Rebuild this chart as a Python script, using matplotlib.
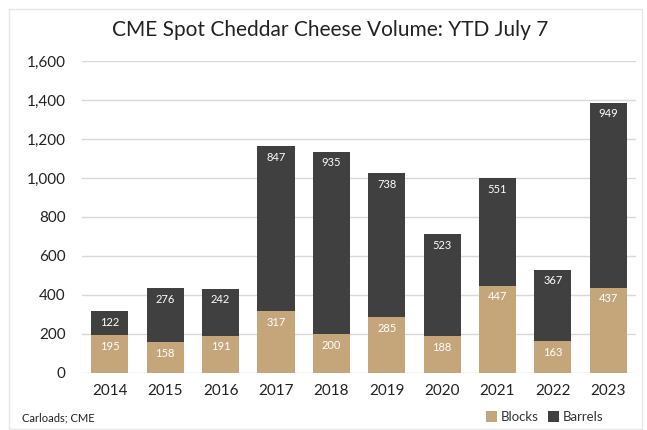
import matplotlib.pyplot as plt
from matplotlib.patches import Rectangle
from matplotlib.ticker import FuncFormatter

years = ["2014", "2015", "2016", "2017", "2018", "2019", "2020", "2021", "2022", "2023"]
blocks = [195, 158, 191, 317, 200, 285, 188, 447, 163, 437]
barrels = [122, 276, 242, 847, 935, 738, 523, 551, 367, 949]

tan = "#c4a67a"
dark = "#404040"

plt.rcParams['font.family'] = ['Lato', 'DejaVu Sans']

fig = plt.figure(figsize=(6.47, 4.30), dpi=100)
ax = fig.add_axes([0.127, 0.1326, 0.856, 0.7256])

x = range(len(years))
b1 = ax.bar(x, blocks, width=0.67, color=tan, label="Blocks", zorder=2)
b2 = ax.bar(x, barrels, width=0.67, bottom=blocks, color=dark, label="Barrels", zorder=2)

# value labels just inside the top of each segment
for bars, vals in [(b1, blocks), (b2, barrels)]:
    for r, v in zip(bars, vals):
        top = r.get_y() + r.get_height()
        ax.annotate(str(v), (r.get_x() + r.get_width() / 2, top),
                    xytext=(0, -8), textcoords="offset points",
                    ha="center", va="center", color="white", fontsize=8)

ax.set_xlim(-0.5, len(years) - 0.5)
ax.set_ylim(0, 1600)
ax.set_yticks(range(0, 1601, 200))
ax.yaxis.set_major_formatter(FuncFormatter(lambda v, p: f"{int(v):,}"))
ax.set_xticks(list(x))
ax.set_xticklabels(years)
ax.tick_params(length=0, labelsize=11, colors="#222222")
ax.tick_params(axis="x", pad=8)
ax.tick_params(axis="y", pad=12)
ax.grid(axis="y", color="#d9d9d9", linewidth=1, zorder=0)
for s in ax.spines.values():
    s.set_visible(False)

fig.text(0.51, 0.93, "CME Spot Cheddar Cheese Volume: YTD July 7",
         ha="center", va="center", fontsize=15, color="#222222")
fig.text(0.034, 0.028, "Carloads; CME", fontsize=8, color="#222222", va="center")

ax.legend(loc="center", bbox_to_anchor=(0.842, 0.03), bbox_transform=fig.transFigure,
          ncol=2, frameon=False, fontsize=9.5, handlelength=0.8, handleheight=0.8,
          handletextpad=0.3, columnspacing=0.7, labelcolor="#333333")

fig.patches.append(Rectangle((9 / 647, 1 / 430), 633 / 647, 420 / 430,
                             transform=fig.transFigure, fill=False,
                             edgecolor="#e6e6e6", linewidth=1))

fig.savefig("out.png", dpi=100)
